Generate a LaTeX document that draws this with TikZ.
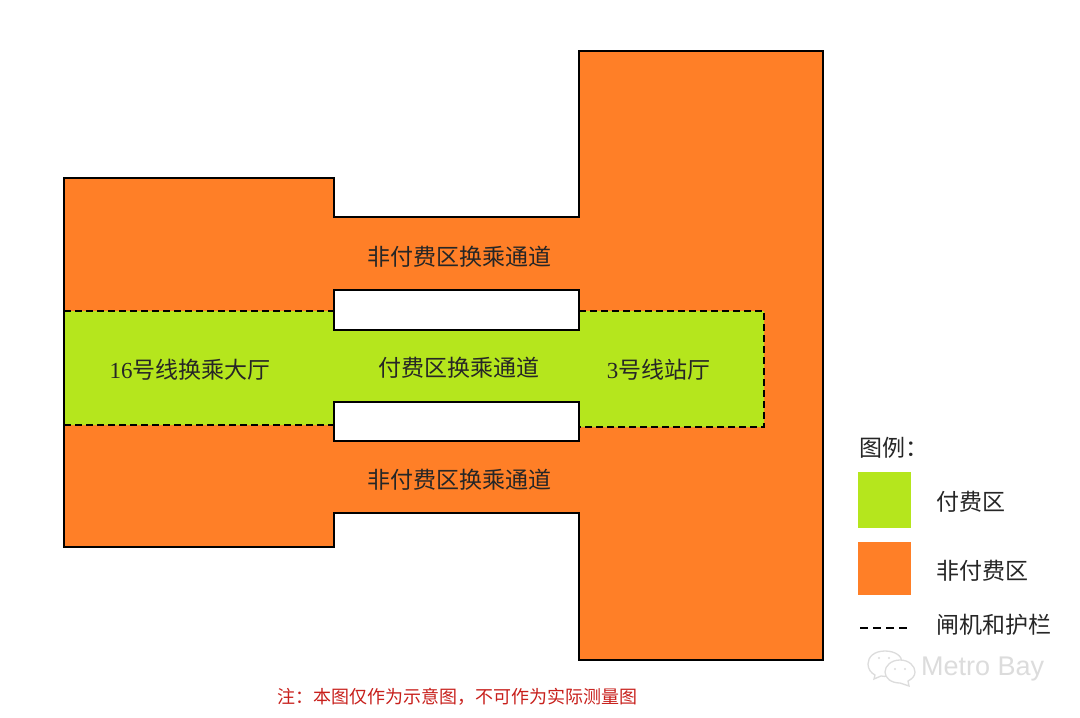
\documentclass[tikz,border=0pt]{standalone}
\usepackage{fontspec}
\setmainfont{Liberation Serif}
\newfontfamily\cjk{Noto Sans CJK SC}
\newfontfamily\wm{Liberation Sans}
\definecolor{orangefill}{HTML}{FF7F27}
\definecolor{greenfill}{HTML}{B5E61D}
\definecolor{notered}{HTML}{C8201C}
\definecolor{wmgrey}{HTML}{DCDCDC}
\tikzset{
  outline/.style={draw=black,line width=1.5pt},
  gate/.style={draw=black,line width=1.8pt,dash pattern=on 7pt off 4pt},
  lab/.style={inner sep=0pt,text=black!85,font=\fontsize{23}{25}\selectfont},
  bubble/.style={draw=wmgrey,line width=1.3pt,fill=white}
}
\newcommand{\zh}[1]{{\cjk #1}}
\begin{document}
\begin{tikzpicture}[x=1pt,y=-1pt]
\useasboundingbox (0,0) rectangle (1080,718);
\fill[white] (0,0) rectangle (1080,718);
% non-paid area
\fill[orangefill] (64,178) -- (334,178) -- (334,217) -- (579,217) -- (579,51) -- (823,51) -- (823,660) -- (579,660) -- (579,513) -- (334,513) -- (334,547) -- (64,547) -- cycle;
% paid area
\fill[greenfill] (64,311) -- (334,311) -- (579,311) -- (764,311) -- (764,427) -- (579,427) -- (334,425) -- (64,425) -- cycle;
% outline of the whole area, over the paid area's left end
\draw[outline] (64,178) -- (334,178) -- (334,217) -- (579,217) -- (579,51) -- (823,51) -- (823,660) -- (579,660) -- (579,513) -- (334,513) -- (334,547) -- (64,547) -- cycle;
% gates
\draw[gate] (64,311) -- (334,311);
\draw[gate] (64,425) -- (334,425);
\draw[gate] (579,311) -- (764,311) -- (764,427) -- (579,427);
% voids
\path[fill=white,outline] (334,290) rectangle (579,330);
\path[fill=white,outline] (334,402) rectangle (579,441);
% labels
\node[lab] (top) at (459,257) {\zh{非付费区换乘通道}};
\node[lab] (bottom) at (459,480) {\zh{非付费区换乘通道}};
\node[lab] (mid) at (459,368) {\zh{付费区换乘通道}};
\node[lab] (hall16) at (190,370) {16\zh{号线换乘大厅}};
\node[lab] (hall3) at (658.5,370) {3\zh{号线站厅}};
% legend
\node[lab,anchor=west] (legendtitle) at (859,448) {\zh{图例：}};
\fill[greenfill] (858,472) rectangle (911,528);
\fill[orangefill] (858,542) rectangle (911,595);
\coordinate (da) at (860,628);
\coordinate (db) at (910,628);
\draw[draw=black,line width=1.7pt,dash pattern=on 8pt off 5pt] (da) -- (db);
\node[lab,anchor=west] (l1) at (936,502) {\zh{付费区}};
\node[lab,anchor=west] (l2) at (936,571) {\zh{非付费区}};
\node[lab,anchor=west] (l3) at (936,625) {\zh{闸机和护栏}};
% note
\node[inner sep=0pt,text=notered,font=\fontsize{18}{20}\selectfont] (note) at (457,697) {\zh{注：本图仅作为示意图，不可作为实际测量图}};
% watermark
\path[bubble] (885,651) .. controls (874,651) and (868,657) .. (868,664) .. controls (868,669) and (871,673) .. (875,675) -- (874,679) -- (881,676) .. controls (890,678) and (902,672) .. (902,662) .. controls (902,656) and (895,651) .. (885,651) -- cycle;
\path[bubble] (900,660) .. controls (891,660) and (885,666) .. (885,672) .. controls (885,678) and (891,683) .. (900,683) -- (909,686) -- (908,681) .. controls (912,679) and (915,676) .. (915,672) .. controls (915,666) and (909,660) .. (900,660) -- cycle;
\fill[wmgrey] (879,658) circle (1.2) (889,658) circle (1.2) (895,669) circle (1.2) (905,669) circle (1.2);
\node[inner sep=0pt,anchor=west,text=wmgrey,font=\wm\fontsize{27}{29}\selectfont] (wm) at (921,669) {Metro Bay};
\end{tikzpicture}
\end{document}
